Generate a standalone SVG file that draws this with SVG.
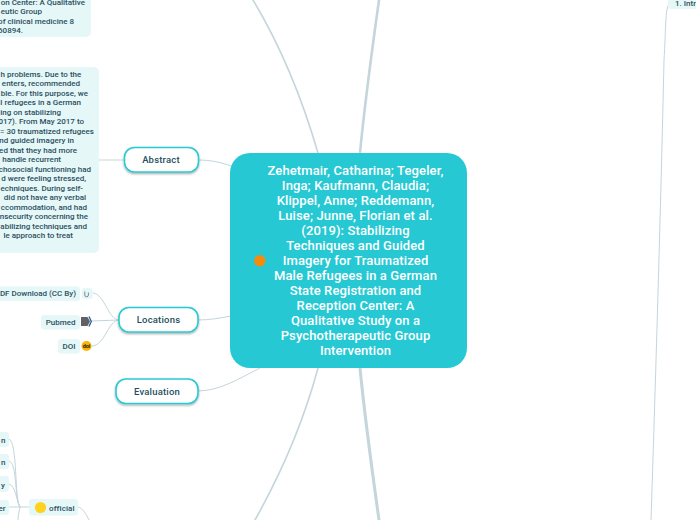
<svg xmlns="http://www.w3.org/2000/svg" width="696" height="520" viewBox="0 0 696 520">
<style>
text{font-family:Roboto,"Liberation Sans",sans-serif}
.c{fill:none;stroke:#c4d5db;stroke-linecap:round}
.p{fill:#e6f7f8}
.t{font-size:8px;font-weight:500;fill:#2b4f60}
.e{text-anchor:end}
.b{fill:#fff;stroke:#2bcad3;stroke-width:1.6}
.n{font-size:9.5px;font-weight:500;fill:#25505f;text-anchor:middle;letter-spacing:.2px}
.m{font-size:13px;font-weight:500;fill:#fff;text-anchor:middle;letter-spacing:.12px}
</style>
<defs>
<filter id="s" x="-10%" y="-20%" width="120%" height="150%"><feDropShadow dx="0" dy="1.2" stdDeviation="1" flood-color="#000" flood-opacity=".35"/></filter>
</defs>
<g id="connectors">
<path class="c" stroke-width="1.6" d="M318 153C304 105 283 50 253 0"/>
<path class="c" stroke-width="2.6" d="M360 153C365 100 372 50 379 0"/>
<path class="c" stroke-width="1.6" d="M318 368C304 420 283 470 255 520"/>
<path class="c" stroke-width="3" d="M360 368C365 420 372 470 379 520"/>
<path class="c" stroke-width="1" d="M198 160C210 160 220 162 231 166"/>
<path class="c" stroke-width="1" d="M198 320C210 320 220 318 231 316"/>
<path class="c" stroke-width="1" d="M198 391C220 391 240 378 260 368"/>
<path class="c" stroke-width="1" d="M99 160H124"/>
<path class="c" stroke-width="1" d="M119 320C108 320 105 294 93 293"/>
<path class="c" stroke-width="1" d="M119 320C110 320 100 321 91 321"/>
<path class="c" stroke-width="1" d="M119 320C108 320 105 346 92 346"/>
<path class="c" stroke-width="1" d="M9 439C18 441 14 500 20 507"/>
<path class="c" stroke-width="1" d="M9 461C18 463 14 500 20 507"/>
<path class="c" stroke-width="1" d="M9 484C16 486 16 500 20 507"/>
<path class="c" stroke-width="1" d="M9 507H29"/>
<path class="c" stroke-width="1" d="M20 507C19 512 18 516 18 520"/>
<path class="c" stroke-width="1" d="M78 507C83 508 86 514 89 520"/>
<path class="c" stroke-width="1" d="M669 4C665 8 666 30 664 60C661 200 655 400 651 520"/>
</g>
<g id="citation-note">
<rect class="p" x="-20" y="-10" width="111" height="47" rx="5"/>
<text class="t e" x="85" y="4.5">on Center: A Qualitative</text>
<text class="t e" x="42" y="14">eutic Group</text>
<text class="t e" x="74" y="23.5">of clinical medicine 8</text>
<text class="t e" x="23" y="33">60894.</text>
</g>
<g id="abstract-note">
<rect class="p" x="-20" y="67" width="119" height="186" rx="5"/>
<text class="t e" x="81.3" y="76.5">h problems. Due to the</text>
<text class="t e" x="80" y="86">enters, recommended</text>
<text class="t e" x="88" y="95.5">ble. For this purpose, we</text>
<text class="t e" x="81" y="105">l refugees in a German</text>
<text class="t e" x="61" y="114.5">ing on stabilizing</text>
<text class="t e" x="84" y="124">017). From May 2017 to</text>
<text class="t e" x="94" y="133.5">= 30 traumatized refugees</text>
<text class="t e" x="74" y="143">nd guided imagery in</text>
<text class="t e" x="77" y="152.5">ed that they had more</text>
<text class="t e" x="61" y="162">handle recurrent</text>
<text class="t e" x="91" y="171.5">chosocial functioning had</text>
<text class="t e" x="86" y="181">d were feeling stressed,</text>
<text class="t e" x="83" y="190.5">echniques. During self-</text>
<text class="t e" x="86" y="200">did not have any verbal</text>
<text class="t e" x="87" y="209.5">ccommodation, and had</text>
<text class="t e" x="88" y="219">nsecurity concerning the</text>
<text class="t e" x="87" y="228.5">abilizing techniques and</text>
<text class="t e" x="73" y="238">le approach to treat</text>
</g>
<g id="abstract">
<rect class="b" x="124.5" y="147.5" width="74" height="24.5" rx="10" filter="url(#s)"/>
<text class="n" x="161" y="163">Abstract</text>
</g>
<g id="locations">
<rect class="b" x="119" y="307.5" width="79" height="24.5" rx="10" filter="url(#s)"/>
<text class="n" x="158.5" y="323">Locations</text>
</g>
<g id="evaluation">
<rect class="b" x="116" y="379" width="82" height="24.5" rx="10" filter="url(#s)"/>
<text class="n" x="157" y="395">Evaluation</text>
</g>
<g id="pdf">
<rect class="p" x="-10" y="286.5" width="90" height="14.5" rx="3"/>
<rect class="p" x="82" y="288" width="10.5" height="11" rx="2"/>
<path d="M84.8 291.5v3.5a1.8 1.8 0 0 0 3.6 0v-2.5" fill="none" stroke="#5d6f78" stroke-width=".8"/>
<text class="t e" x="76" y="296">DF Download (CC By)</text>
</g>
<g id="pubmed">
<rect class="p" x="41" y="315" width="39" height="14.5" rx="3"/>
<path d="M81 317H87.5L90 321.5L87.5 326H81Z" fill="#626266"/>
<path d="M89 316.5L91.3 321.5L89 326.5" fill="none" stroke="#2163a8" stroke-width="1.3"/>
<text class="t e" x="75.5" y="325">Pubmed</text>
</g>
<g id="doi">
<rect class="p" x="58" y="339" width="22" height="14.5" rx="3"/>
<circle cx="86.5" cy="346" r="5" fill="#fbb400"/>
<text x="86.5" y="348" font-size="5.5" font-weight="700" fill="#222" text-anchor="middle">doi</text>
<text class="t e" x="75.5" y="349">DOI</text>
</g>
<g id="official">
<rect class="p" x="29" y="499" width="49" height="16.5" rx="3"/>
<circle cx="40.5" cy="507.5" r="5.6" fill="#ffd21f"/>
<text class="t" x="49" y="510.5" letter-spacing=".1">official</text>
</g>
<g id="official-children">
<rect class="p" x="-10" y="432" width="19" height="15" rx="3"/>
<text class="t e" x="5.5" y="442.5">n</text>
<rect class="p" x="-10" y="454" width="19" height="15" rx="3"/>
<text class="t e" x="5.5" y="464.5">n</text>
<rect class="p" x="-10" y="476" width="19" height="16" rx="3"/>
<text class="t e" x="5" y="488">y</text>
<rect class="p" x="-10" y="500" width="19" height="15" rx="3"/>
<text class="t e" x="5.5" y="510.5">er</text>
</g>
<g id="intro">
<rect class="p" x="668" y="-8" width="40" height="17" rx="3"/>
<text class="t" x="675" y="6" font-weight="700">1. Intr</text>
</g>
<g id="center">
<rect x="230" y="153" width="237" height="215" rx="20" fill="#26c9d3"/>
<circle cx="259.8" cy="260.7" r="5.7" fill="#f58b0c"/>
<text class="m" x="355.5" y="175">Zehetmair, Catharina; Tegeler,</text>
<text class="m" x="355.5" y="190">Inga; Kaufmann, Claudia;</text>
<text class="m" x="355.5" y="205">Klippel, Anne; Reddemann,</text>
<text class="m" x="355.5" y="220">Luise; Junne, Florian et al.</text>
<text class="m" x="355.5" y="235">(2019): Stabilizing</text>
<text class="m" x="355.5" y="250">Techniques and Guided</text>
<text class="m" x="355.5" y="265">Imagery for Traumatized</text>
<text class="m" x="355.5" y="280">Male Refugees in a German</text>
<text class="m" x="355.5" y="295">State Registration and</text>
<text class="m" x="355.5" y="310">Reception Center: A</text>
<text class="m" x="355.5" y="325">Qualitative Study on a</text>
<text class="m" x="355.5" y="340">Psychotherapeutic Group</text>
<text class="m" x="355.5" y="355">Intervention</text>
</g>
</svg>
